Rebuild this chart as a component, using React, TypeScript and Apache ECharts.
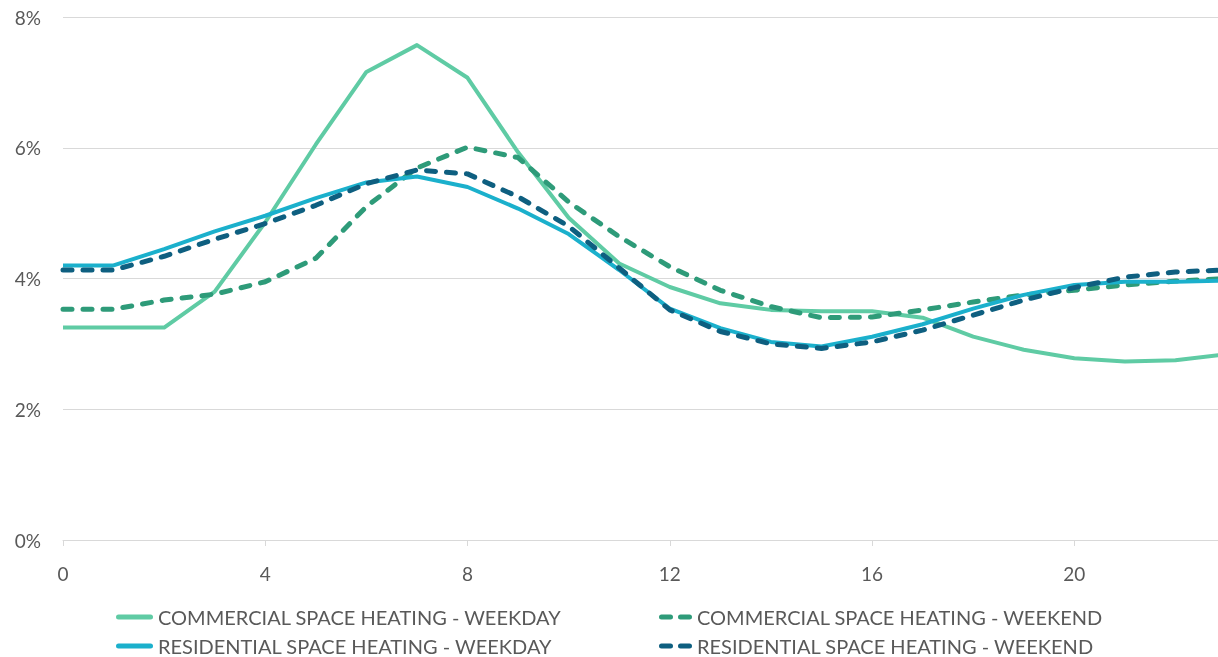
import React, { useEffect, useRef } from "react";
import * as echarts from "echarts";

// Hour of day (0–23)
const hours: string[] = Array.from({ length: 24 }, (_, i) => String(i));

// Share of daily heating load per hour, in percent
const commercialWeekday: number[] = [
  3.25, 3.25, 3.25, 3.8, 4.86, 6.05, 7.16, 7.57, 7.07, 5.93, 4.93, 4.23,
  3.87, 3.62, 3.52, 3.5, 3.5, 3.4, 3.11, 2.91, 2.78, 2.73, 2.75, 2.84,
];
const commercialWeekend: number[] = [
  3.53, 3.53, 3.67, 3.76, 3.95, 4.31, 5.1, 5.69, 6.01, 5.85, 5.17, 4.64,
  4.18, 3.82, 3.57, 3.4, 3.41, 3.52, 3.64, 3.75, 3.82, 3.9, 3.96, 4.0,
];
const residentialWeekday: number[] = [
  4.2, 4.2, 4.45, 4.72, 4.96, 5.23, 5.47, 5.56, 5.4, 5.07, 4.68, 4.13,
  3.54, 3.24, 3.03, 2.96, 3.11, 3.3, 3.54, 3.75, 3.9, 3.95, 3.95, 3.97,
];
const residentialWeekend: number[] = [
  4.13, 4.13, 4.34, 4.6, 4.84, 5.12, 5.45, 5.66, 5.6, 5.25, 4.8, 4.16,
  3.52, 3.19, 3.0, 2.93, 3.03, 3.21, 3.44, 3.67, 3.86, 4.02, 4.1, 4.13,
];

const seriesNames = [
  "COMMERCIAL SPACE HEATING - WEEKDAY",
  "COMMERCIAL SPACE HEATING - WEEKEND",
  "RESIDENTIAL SPACE HEATING - WEEKDAY",
  "RESIDENTIAL SPACE HEATING - WEEKEND",
];

const FONT = "Lato, 'Open Sans', sans-serif";
const TEXT_COLOR = "#595959";
const GRID_COLOR = "#d9d9d9";

// Legend swatches: one rounded bar for solid lines, two rounded dashes for dashed ones
const SOLID_ICON =
  "path://M2.5,0H34.5A2.5,2.5 0 0 1 34.5,5H2.5A2.5,2.5 0 0 1 2.5,0Z";
const DASHED_ICON =
  "path://M2.5,0H11.5A2.5,2.5 0 0 1 11.5,5H2.5A2.5,2.5 0 0 1 2.5,0Z" +
  "M21.5,0H30.5A2.5,2.5 0 0 1 30.5,5H21.5A2.5,2.5 0 0 1 21.5,0Z";

export default function App() {
  const ref = useRef<HTMLDivElement>(null);

  useEffect(() => {
    if (!ref.current) return;
    const chart = echarts.init(ref.current, undefined, { renderer: "svg" });

    const line = (
      name: string,
      data: number[],
      color: string,
      dashed: boolean
    ) => ({
      name,
      type: "line",
      data,
      symbol: "none",
      smooth: false,
      lineStyle: {
        color,
        width: dashed ? 5 : 4,
        type: dashed ? [9, 11] : "solid",
        cap: dashed ? "round" : "butt",
        join: "round",
      },
      itemStyle: { color },
    });

    const legendText = {
      color: TEXT_COLOR,
      fontSize: 20,
      fontFamily: FONT,
      lineHeight: 22,
    };

    chart.setOption({
      animation: false,
      textStyle: { fontFamily: FONT },
      // The hour axis runs a little past the right edge of the canvas
      grid: {
        left: 63,
        top: 17,
        width: 1163,
        bottom: 117,
        containLabel: false,
        outerBoundsMode: "none",
      },
      xAxis: {
        type: "category",
        data: hours,
        boundaryGap: false,
        axisLine: { show: true, lineStyle: { color: GRID_COLOR, width: 1 } },
        axisTick: {
          show: true,
          interval: 3,
          length: 6,
          lineStyle: { color: GRID_COLOR },
        },
        axisLabel: {
          interval: 3,
          color: TEXT_COLOR,
          fontSize: 19,
          fontFamily: FONT,
          margin: 24,
        },
        splitLine: { show: false },
      },
      yAxis: {
        type: "value",
        min: 0,
        max: 8,
        interval: 2,
        axisLine: { show: false },
        axisTick: { show: false },
        axisLabel: {
          formatter: "{value}%",
          color: TEXT_COLOR,
          fontSize: 19,
          fontFamily: FONT,
          margin: 22,
        },
        splitLine: { lineStyle: { color: GRID_COLOR, width: 1 } },
      },
      legend: [
        {
          orient: "vertical",
          left: 116,
          top: 606,
          itemWidth: 37,
          itemHeight: 5,
          itemGap: 7,
          padding: 0,
          data: [
            { name: seriesNames[0], icon: SOLID_ICON },
            { name: seriesNames[2], icon: SOLID_ICON },
          ],
          textStyle: legendText,
        },
        {
          orient: "vertical",
          left: 659,
          top: 606,
          itemWidth: 33,
          itemHeight: 5,
          itemGap: 7,
          padding: 0,
          data: [
            { name: seriesNames[1], icon: DASHED_ICON },
            { name: seriesNames[3], icon: DASHED_ICON },
          ],
          textStyle: legendText,
        },
      ],
      series: [
        line(seriesNames[0], commercialWeekday, "#5fcba4", false),
        line(seriesNames[1], commercialWeekend, "#2e9b79", true),
        line(seriesNames[2], residentialWeekday, "#1bb0cc", false),
        line(seriesNames[3], residentialWeekend, "#0e5f80", true),
      ],
    });

    return () => chart.dispose();
  }, []);

  return (
    <div
      ref={ref}
      style={{ position: "fixed", left: 0, top: 0, width: 1218, height: 657 }}
    />
  );
}
